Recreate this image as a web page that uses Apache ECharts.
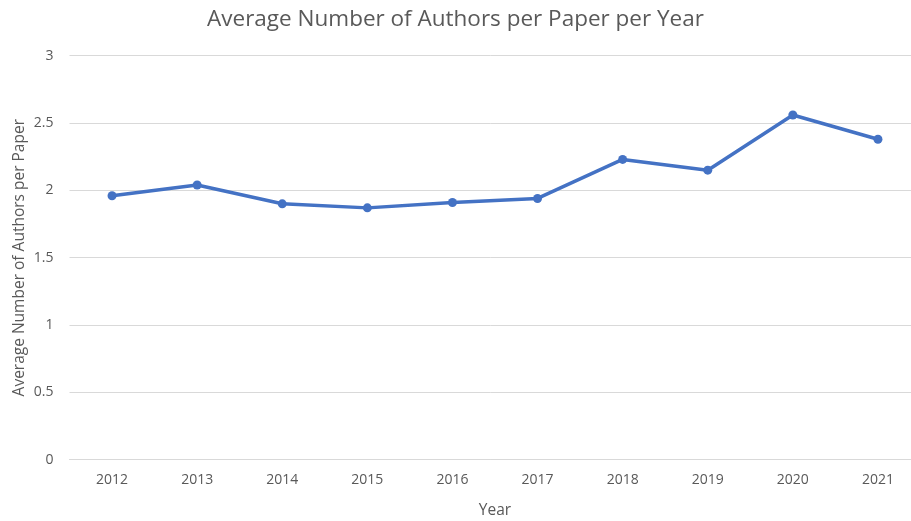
<!DOCTYPE html>
<html>
<head>
<meta charset="utf-8">
<style>
  html, body { margin: 0; padding: 0; background: #fff; }
  #chart { width: 911px; height: 521px; }
</style>
<script src="https://cdn.jsdelivr.net/npm/echarts@6/dist/echarts.min.js"></script>
</head>
<body>
<div id="chart"></div>
<script>
// Average authors per paper, by publication year
const years = ['2012', '2013', '2014', '2015', '2016', '2017', '2018', '2019', '2020', '2021'];
const avgAuthors = [1.96, 2.04, 1.90, 1.87, 1.91, 1.94, 2.23, 2.15, 2.56, 2.38];
const yTicks = { min: 0, max: 3, interval: 0.5 };

const textColor = '#595959';
const gridColor = '#d9d9d9';
const fontFamily = '"Open Sans", "Noto Sans", sans-serif';

const chart = echarts.init(document.getElementById('chart'), null, { renderer: 'canvas' });

chart.setOption({
  backgroundColor: '#ffffff',
  animation: false,
  textStyle: { fontFamily: fontFamily },
  title: {
    text: 'Average Number of Authors per Paper per Year',
    left: 'center',
    top: 3,
    textStyle: { fontSize: 22.5, fontWeight: 'normal', color: textColor, fontFamily: fontFamily }
  },
  grid: {
    left: 69.5, right: -9.5, top: 55.7, bottom: 61.3,
    containLabel: false,
    outerBoundsMode: 'none'
  },
  xAxis: {
    type: 'category',
    data: years,
    boundaryGap: true,
    name: 'Year',
    nameLocation: 'middle',
    nameGap: 43,
    nameMoveOverlap: false,
    nameTextStyle: { color: textColor, fontSize: 15.5, fontFamily: fontFamily },
    axisLine: { show: true, lineStyle: { color: gridColor, width: 1 } },
    axisTick: { show: false },
    axisLabel: { color: textColor, fontSize: 14, margin: 13, fontFamily: fontFamily },
    splitLine: { show: false }
  },
  yAxis: {
    type: 'value',
    min: yTicks.min,
    max: yTicks.max,
    interval: yTicks.interval,
    name: 'Average Number of Authors per Paper',
    nameLocation: 'middle',
    nameGap: 42,
    nameMoveOverlap: false,
    nameTextStyle: { color: textColor, fontSize: 15.5, fontFamily: fontFamily },
    axisLine: { show: false },
    axisTick: { show: false },
    axisLabel: { color: textColor, fontSize: 14, margin: 16, fontFamily: fontFamily },
    splitLine: { show: true, lineStyle: { color: gridColor, width: 1 } }
  },
  series: [{
    type: 'line',
    data: avgAuthors,
    symbol: 'circle',
    symbolSize: 9,
    lineStyle: { color: '#4472C4', width: 3.5 },
    itemStyle: { color: '#4472C4' },
    z: 3
  }]
});
</script>
</body>
</html>
